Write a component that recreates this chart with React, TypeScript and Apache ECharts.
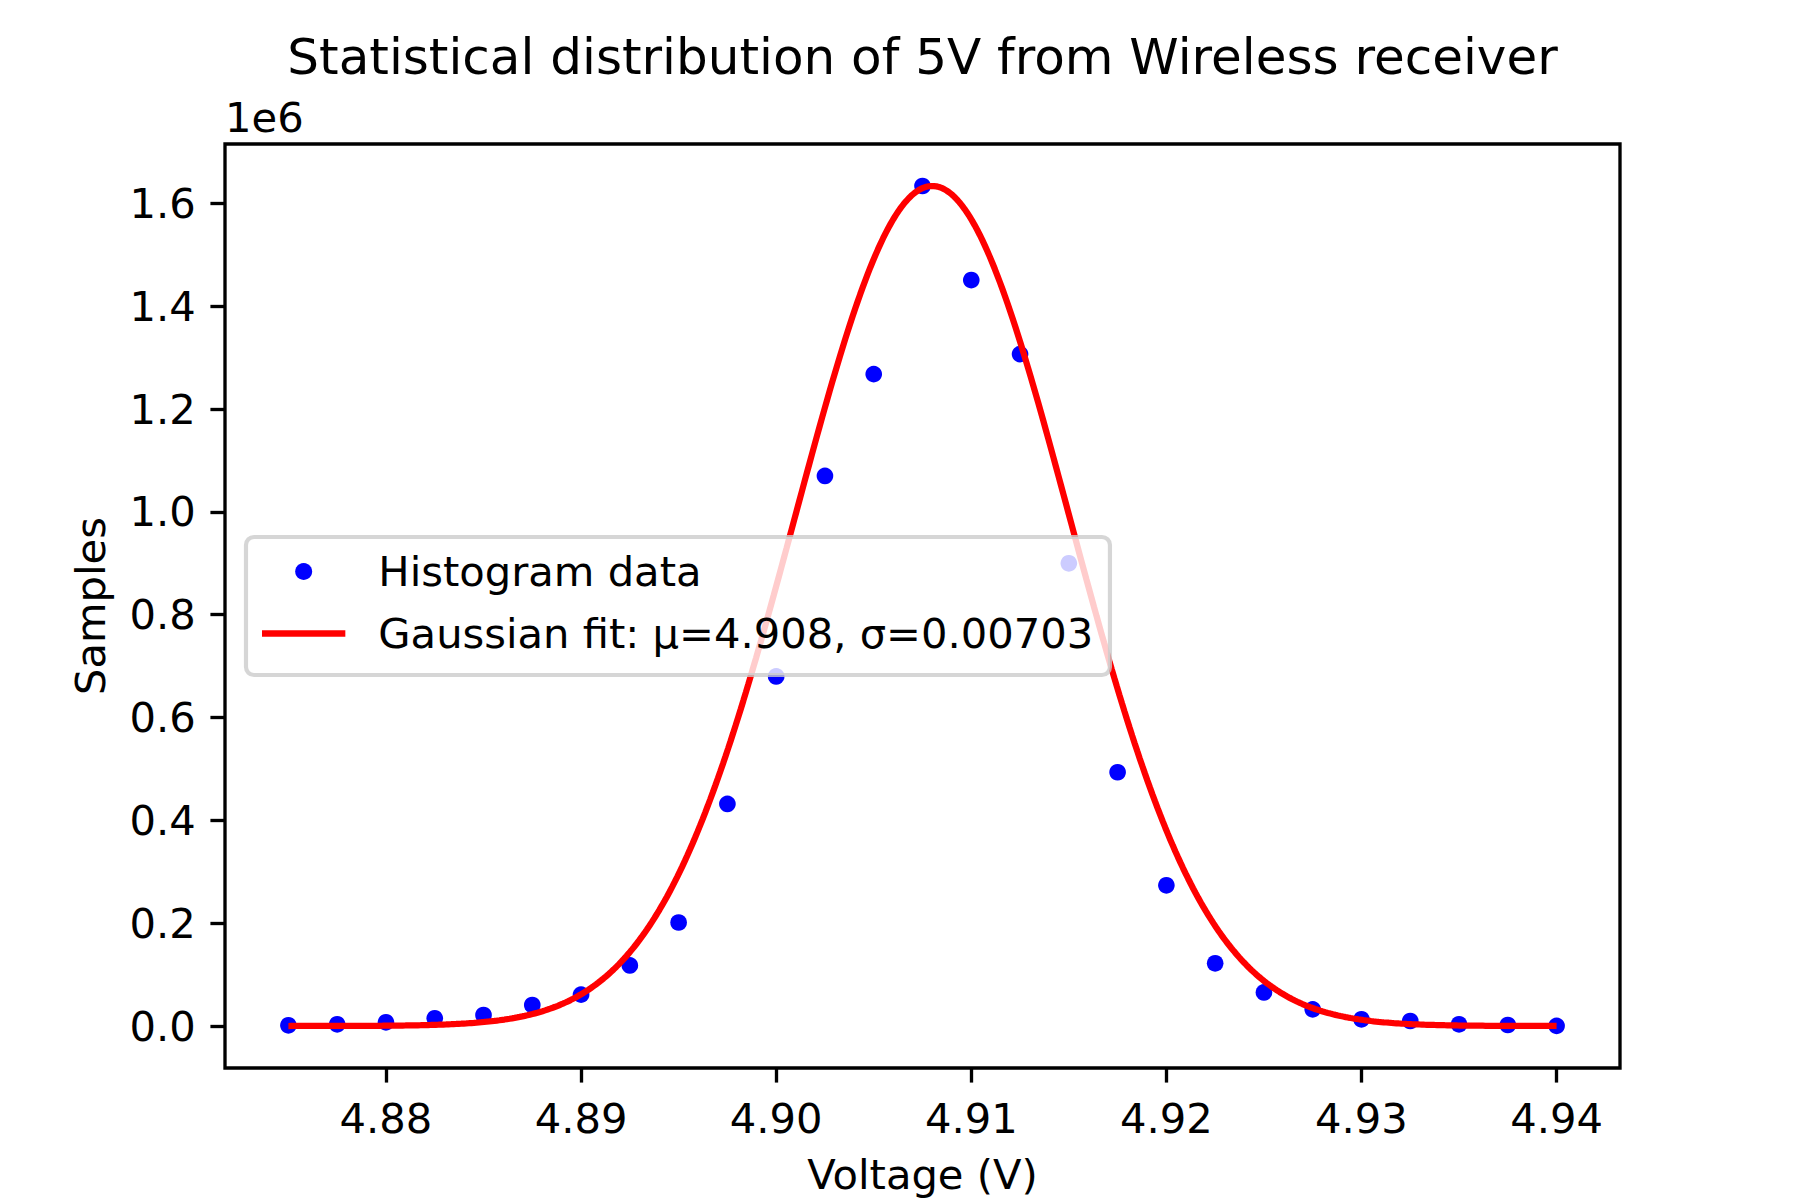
import React, { useEffect, useRef } from "react";
import * as echarts from "echarts";

// Histogram bin centres (V) and sample counts per bin
const voltages = [
  4.875, 4.8775, 4.88, 4.8825, 4.885, 4.8875, 4.89, 4.8925, 4.895, 4.8975,
  4.9, 4.9025, 4.905, 4.9075, 4.91, 4.9125, 4.915, 4.9175, 4.92, 4.9225,
  4.925, 4.9275, 4.93, 4.9325, 4.935, 4.9375, 4.94,
];
const counts = [
  1400, 3300, 7200, 15000, 21400, 40900, 61000, 117800, 201300, 432000,
  680000, 1070000, 1268000, 1634000, 1451000, 1307000, 900000, 493600, 273700, 122000,
  65300, 32400, 13000, 9700, 3300, 2000, 300,
];

// Gaussian fit parameters
const fitMu = 4.908;
const fitSigma = 0.00703;
const fitAmplitude = 1.634e6;

// Tick positions
const xTicks = [4.88, 4.89, 4.9, 4.91, 4.92, 4.93, 4.94];
const yTicks = [0, 0.2e6, 0.4e6, 0.6e6, 0.8e6, 1.0e6, 1.2e6, 1.4e6, 1.6e6];

const titleText = "Statistical distribution of 5V from Wireless receiver";
const xLabel = "Voltage (V)";
const yLabel = "Samples";
const scaleText = "1e6";
const histName = "Histogram data";
const fitName = `Gaussian fit: μ=${fitMu.toFixed(3)}, σ=${fitSigma.toFixed(5)}`;

const FONT = "DejaVu Sans";
const PT = 300 / 72; // pixels per point

function gaussian(x: number): number {
  const d = (x - fitMu) / fitSigma;
  return fitAmplitude * Math.exp(-0.5 * d * d);
}

export default function App() {
  const ref = useRef<HTMLDivElement>(null);

  useEffect(() => {
    if (!ref.current) return;
    const chart = echarts.init(ref.current, null, { renderer: "svg" });

    // fitted curve evaluated across the histogram range
    const x0 = voltages[0];
    const x1 = voltages[voltages.length - 1];
    const nCurve = 500;
    const curve: number[][] = [];
    for (let i = 0; i < nCurve; i++) {
      const x = x0 + ((x1 - x0) * i) / (nCurve - 1);
      curve.push([x, gaussian(x)]);
    }

    // autoscale with a 5% margin on each side
    const xs = voltages.concat(curve.map((p) => p[0]));
    const ys = counts.concat(curve.map((p) => p[1]));
    const xmin0 = Math.min(...xs);
    const xmax0 = Math.max(...xs);
    const ymin0 = Math.min(...ys);
    const ymax0 = Math.max(...ys);
    const xm = (xmax0 - xmin0) * 0.05;
    const ym = (ymax0 - ymin0) * 0.05;

    const left = 225;
    const top = 144;
    const width = 1395;
    const height = 924;

    const tickFont = 10 * PT;
    const handleLen = 2 * tickFont;
    const lineW = 1.5 * PT;

    chart.setOption({
      animation: false,
      backgroundColor: "#ffffff",
      grid: {
        left,
        top,
        width,
        height,
        show: true,
        borderColor: "#000000",
        borderWidth: 0.8 * PT,
        backgroundColor: "transparent",
        containLabel: false,
      },
      xAxis: {
        type: "value",
        min: xmin0 - xm,
        max: xmax0 + xm,
        axisLine: { show: false, onZero: false },
        splitLine: { show: false },
        axisTick: {
          show: true,
          inside: false,
          length: 3.5 * PT,
          lineStyle: { color: "#000000", width: 0.8 * PT },
          customValues: xTicks,
        },
        axisLabel: {
          show: true,
          customValues: xTicks,
          formatter: (v: number) => v.toFixed(2),
          fontSize: tickFont,
          fontFamily: FONT,
          color: "#000000",
          margin: 7 * PT,
        },
      },
      yAxis: {
        type: "value",
        min: ymin0 - ym,
        max: ymax0 + ym,
        axisLine: { show: false, onZero: false },
        splitLine: { show: false },
        axisTick: {
          show: true,
          inside: false,
          length: 3.5 * PT,
          lineStyle: { color: "#000000", width: 0.8 * PT },
          customValues: yTicks,
        },
        axisLabel: {
          show: true,
          customValues: yTicks,
          formatter: (v: number) => (v / 1e6).toFixed(1),
          fontSize: tickFont,
          fontFamily: FONT,
          color: "#000000",
          margin: 7 * PT,
        },
      },
      legend: {
        orient: "vertical",
        left: 246,
        top: 537,
        itemWidth: handleLen,
        itemHeight: 17,
        itemGap: 20,
        padding: [13.5, 16.7, 20.5, 16],
        backgroundColor: "rgba(255,255,255,0.8)",
        borderColor: "rgba(204,204,204,0.8)",
        borderWidth: 1 * PT,
        borderRadius: 8,
        selectedMode: false,
        textStyle: {
          fontSize: tickFont,
          fontFamily: FONT,
          color: "#000000",
          lineHeight: 42,
          padding: [0, 0, 0, 28],
        },
        data: [
          { name: histName, icon: "circle", itemStyle: { color: "#0000ff", opacity: 1 } },
          {
            name: fitName,
            icon: `path://M0,0H${handleLen.toFixed(1)}V${lineW.toFixed(2)}H0Z`,
            itemStyle: { color: "#ff0000", opacity: 1 },
          },
        ],
      },
      graphic: [
        {
          type: "text",
          x: left + width / 2,
          y: 56.5,
          style: {
            text: titleText,
            fontSize: 12 * PT,
            fontFamily: FONT,
            fill: "#000000",
            align: "center",
            verticalAlign: "middle",
          },
        },
        {
          type: "text",
          x: left,
          y: 117,
          style: {
            text: scaleText,
            fontSize: tickFont,
            fontFamily: FONT,
            fill: "#000000",
            align: "left",
            verticalAlign: "middle",
          },
        },
        {
          type: "text",
          x: left + width / 2,
          y: 1174,
          style: {
            text: xLabel,
            fontSize: tickFont,
            fontFamily: FONT,
            fill: "#000000",
            align: "center",
            verticalAlign: "middle",
          },
        },
        {
          type: "text",
          x: 90,
          y: top + height / 2,
          rotation: Math.PI / 2,
          style: {
            text: yLabel,
            fontSize: tickFont,
            fontFamily: FONT,
            fill: "#000000",
            align: "center",
            verticalAlign: "middle",
          },
        },
      ],
      series: [
        {
          name: histName,
          type: "scatter",
          data: voltages.map((v, i) => [v, counts[i]]),
          symbol: "circle",
          symbolSize: 4 * PT,
          itemStyle: { color: "#0000ff", opacity: 1 },
          z: 2,
        },
        {
          name: fitName,
          type: "line",
          data: curve,
          symbol: "none",
          showSymbol: false,
          lineStyle: { color: "#ff0000", width: lineW },
          itemStyle: { color: "#ff0000" },
          z: 3,
        },
      ],
    });

    return () => chart.dispose();
  }, []);

  return (
    <div
      ref={ref}
      style={{ position: "fixed", left: 0, top: 0, width: 1800, height: 1200, background: "#fff" }}
    />
  );
}
